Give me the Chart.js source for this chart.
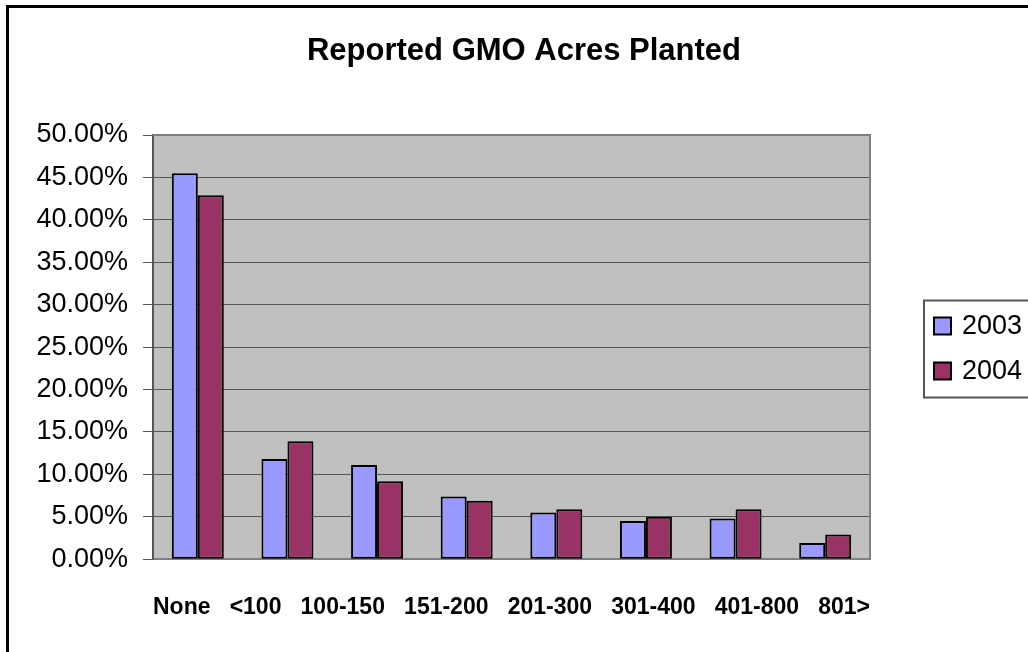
<!DOCTYPE html>
<html>
<head>
<meta charset="utf-8">
<script src="https://cdn.jsdelivr.net/npm/chart.js"></script>
<style>
html, body { margin: 0; padding: 0; background: #fff; overflow: hidden; width: 1028px; height: 652px; }
#wrap { position: absolute; left: 6px; top: 5px; width: 1030px; height: 660px; border: 3px solid #000; background: #fff; }
</style>
</head>
<body>
<div id="wrap"><canvas id="myChart"></canvas></div>
<script>
var categories = ["None", "<100", "100-150", "151-200", "201-300", "301-400", "401-800", "801>"];
var series2003 = [45.5, 11.8, 11.1, 7.4, 5.5, 4.5, 4.8, 1.9];
var series2004 = [42.9, 13.9, 9.2, 6.9, 5.9, 5.0, 5.9, 2.9];
var yTicks = [0, 5, 10, 15, 20, 25, 30, 35, 40, 45, 50];

var FONT = "'Liberation Sans', Arial, sans-serif";

// grey plot background + border round the plot
var plotArea = {
    id: 'plotArea',
    beforeDraw: function (chart) {
        var a = chart.chartArea, c = chart.ctx;
        c.save();
        c.fillStyle = '#c0c0c0';
        c.fillRect(a.left, a.top, a.right - a.left, a.bottom - a.top);
        c.restore();
    },
    afterDraw: function (chart) {
        var a = chart.chartArea, c = chart.ctx;
        c.save();
        c.strokeStyle = '#808080';
        c.lineWidth = 2;
        c.beginPath();
        c.moveTo(a.left, a.top);
        c.lineTo(a.right, a.top);
        c.lineTo(a.right, a.bottom);
        c.stroke();
        c.restore();
    }
};

// boxed legend on the right, like the Excel one
var boxLegend = {
    id: 'boxLegend',
    afterDraw: function (chart) {
        var c = chart.ctx;
        var x = 915, y = 292.5, rowH = 45;
        c.save();
        c.strokeStyle = '#555';
        c.lineWidth = 2;
        c.strokeRect(x, y, 200, 97);
        chart.data.datasets.forEach(function (ds, i) {
            var cy = y + 25.5 + i * rowH;
            c.fillStyle = ds.backgroundColor;
            c.fillRect(925, cy - 8.5, 17, 17);
            c.strokeStyle = '#000';
            c.lineWidth = 2;
            c.strokeRect(925, cy - 8.5, 17, 17);
            c.fillStyle = '#000';
            c.font = '27px ' + FONT;
            c.textBaseline = 'middle';
            c.textAlign = 'left';
            c.fillText(ds.label, 953, cy + 1);
        });
        c.restore();
    }
};

var ctx = document.getElementById("myChart").getContext('2d');

var myChart = new Chart(ctx, {
    type: 'bar',
    data: {
        labels: categories,
        datasets: [
            {
                label: '2003',
                data: series2003,
                backgroundColor: '#9999ff',
                borderColor: '#000',
                borderWidth: 2,
                borderSkipped: false
            },
            {
                label: '2004',
                data: series2004,
                backgroundColor: '#993366',
                borderColor: '#000',
                borderWidth: 2,
                borderSkipped: false
            }
        ]
    },
    options: {
        responsive: true,
        maintainAspectRatio: false,
        animation: false,
        categoryPercentage: 0.58,
        barPercentage: 1.0,
        layout: {
            padding: { left: 0, right: 0, top: 0, bottom: 47 }
        },
        plugins: {
            legend: { display: false },
            tooltip: { enabled: false },
            title: {
                display: true,
                text: 'Reported GMO Acres Planted',
                color: '#000',
                font: { family: FONT, size: 31, weight: 'bold' },
                padding: { top: 24.5, bottom: 65.3 }
            }
        },
        scales: {
            x: {
                grid: { display: false, drawTicks: false },
                border: { display: true, color: '#808080', width: 2 },
                ticks: { display: false },
                title: {
                    display: true,
                    text: categories.join("   "),
                    color: '#000',
                    font: { family: FONT, size: 23, weight: 'bold' },
                    padding: { top: 34.2, bottom: 0 }
                }
            },
            y: {
                min: 0,
                max: 50,
                afterBuildTicks: function (scale) {
                    scale.ticks = yTicks.map(function (v) { return { value: v }; });
                },
                afterFit: function (scale) {
                    scale.width = 144;
                },
                grid: {
                    color: '#555',
                    lineWidth: 1,
                    tickLength: 10
                },
                border: { display: true, color: '#555', width: 2 },
                ticks: {
                    color: '#000',
                    padding: 15,
                    font: { family: FONT, size: 27 },
                    callback: function (v) { return v.toFixed(2) + '%'; }
                }
            },
            // empty right axis, only holds the room for the legend
            legendSpace: {
                type: 'linear',
                position: 'right',
                grid: { display: false, drawTicks: false },
                border: { display: false },
                ticks: { display: false },
                afterFit: function (scale) {
                    scale.width = 169;
                }
            }
        }
    },
    plugins: [plotArea, boxLegend]
});
</script>
</body>
</html>
